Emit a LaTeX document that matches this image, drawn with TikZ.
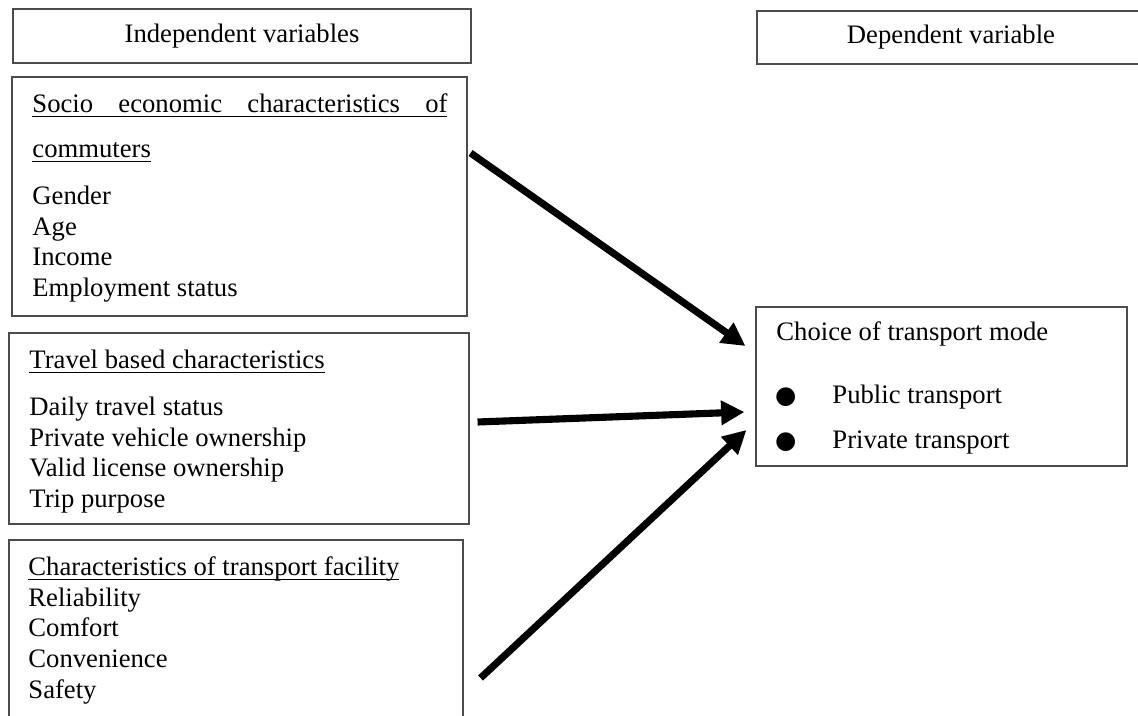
\documentclass[tikz,border=0pt]{standalone}
\usepackage{fontspec}
\setmainfont{Liberation Serif}
\newfontfamily\symfont{DejaVu Sans}
\usetikzlibrary{arrows.meta, positioning}

\newcommand{\ulin}[1]{{\setbox0\hbox{#1}\rlap{\rule[-2pt]{\wd0}{0.6pt}}\box0}}
\newcommand{\bulmark}{{\symfont\fontsize{11}{13}\selectfont ●}}
\newcommand{\bulline}[1]{\makebox[25.2pt][l]{\hspace{-0.6pt}\bulmark}#1}

\begin{document}
\begin{tikzpicture}[x=0.45pt, y=-0.45pt,
    font=\fontsize{12}{13.8}\selectfont,
    varbox/.style={draw=black!70, line width=0.5pt, inner sep=0pt},
    listtext/.style={anchor=north west, inner sep=0pt, align=left},
    bigarrow/.style={line width=3.2pt, -{Triangle[length=10.5pt, width=10.5pt]}}]
    % Page frame
    \fill[white] (0,0) rectangle (1138,716);
    \useasboundingbox (0,0) rectangle (1138,716);
    \clip (0,0) rectangle (1138,716);

    % Column headings
    \node[varbox, minimum width=206.1pt, minimum height=24.3pt] (indep) at (242,36) {Independent variables};
    \node[varbox, minimum width=174.6pt, minimum height=23.85pt] (dep) at (951,37.5) {Dependent variable};

    % Independent variable boxes
    \node[varbox, minimum width=204.75pt, minimum height=107.55pt] (socio) at (239.5,196.5) {};
    \node[varbox, minimum width=207pt, minimum height=85.95pt] (travel) at (239,428.5) {};
    \node[varbox, minimum width=204.3pt, minimum height=90pt] (facility) at (236,640) {};

    \node[listtext] (sociotext) at (32,90.5) {\strut\ulin{\makebox[186.75pt][s]{Socio economic characteristics of}}\\[6.45pt]
        \ulin{commuters}\\[7.35pt]
        Gender\\ Age\\ Income\\ Employment status};
    \node[listtext] (traveltext) at (29,346.5) {\strut\ulin{Travel based characteristics}\\[7.35pt]
        Daily travel status\\ Private vehicle ownership\\ Valid license ownership\\ Trip purpose};
    \node[listtext] (facilitytext) at (28,553.5) {\strut\ulin{Characteristics of transport facility}\\
        Reliability\\ Comfort\\ Convenience\\ Safety};

    % Dependent variable box
    \node[varbox, minimum width=166.95pt, minimum height=71.55pt] (choice) at (941.5,386.5) {};
    \node[listtext] (choicetext) at (776,318.5) {\strut Choice of transport mode\\[14.55pt]
        \bulline{Public transport}\\[6.45pt]
        \bulline{Private transport}};

    % Arrows
    \draw[bigarrow] ([shift={(3,-43.5)}]socio.east) -- ([shift={(-10,-40.5)}]choice.west);
    \draw[bigarrow] ([shift={(8,-6.5)}]travel.east) -- ([shift={(-11,25.5)}]choice.west);
    \draw[bigarrow] ([shift={(17,38)}]facility.east) -- ([shift={(-9,43.5)}]choice.west);
\end{tikzpicture}
\end{document}
